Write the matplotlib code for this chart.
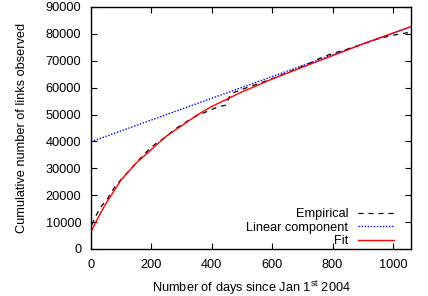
import matplotlib
matplotlib.use("Agg")
import matplotlib.pyplot as plt

plt.rcParams["font.family"] = ["Liberation Sans", "DejaVu Sans"]
plt.rcParams["font.size"] = 9.2

# ==========================================
# data
# ==========================================

emp_days = [3, 12, 29, 56, 76, 100, 134, 161, 189, 216, 247, 275, 308, 349,
            388, 422, 448, 458, 471, 516, 565, 604, 659, 709, 736, 769, 808,
            841, 880, 913, 946, 981, 1023, 1056]
emp_links = [9000, 11400, 15100, 18900, 22600, 25900, 30000, 33400, 36700,
             39300, 41600, 44300, 46800, 49500, 51300, 52900, 53500, 56500,
             58100, 60000, 61900, 63500, 66000, 68400, 69700, 71500, 73000,
             74000, 75500, 76700, 78000, 79000, 80000, 80500]

lin_days = [0, 1060]
lin_links = [39900, 82700]

fit_days = [0, 25, 50, 100, 150, 200, 250, 300, 350, 400, 450, 500, 600,
            700, 800, 900, 1000, 1060]
fit_links = [6400, 12000, 17000, 25700, 32000, 37000, 42000, 45800, 49700,
             53000, 55700, 58400, 63200, 67600, 71900, 76200, 80300, 82700]

# ==========================================
# figure
# ==========================================

fig = plt.figure(figsize=(4.28, 2.96), dpi=100)
ax = fig.add_axes([0.2126, 0.1588, 0.7477, 0.8176])

ax.plot(emp_days, emp_links, color="black", lw=0.9,
        linestyle=(0, (4, 4)), label="Empirical")
ax.plot(lin_days, lin_links, color="#0000ff", lw=1.0,
        linestyle=(0, (1, 1.2)), label="Linear component")
ax.plot(fit_days, fit_links, color="#ff0000", lw=1.0, label="Fit")

ax.set_xlim(0, 1060)
ax.set_ylim(0, 90000)
ax.set_xticks(range(0, 1001, 200))
ax.set_yticks(range(0, 90001, 10000))
ax.tick_params(direction="in", length=4, width=0.8, top=True, right=True,
               colors="black")
ax.tick_params(axis="x", pad=7)
ax.tick_params(axis="y", pad=7)
for side in ax.spines.values():
    side.set_linewidth(1.0)

ax.set_xlabel("Number of days since Jan 1$^{\\mathregular{st}}$ 2004", labelpad=6)
ax.set_ylabel("Cumulative number of links observed", labelpad=13)

ax.legend(loc="lower right", bbox_to_anchor=(0.955, -0.003), frameon=False,
          markerfirst=False, handlelength=2.8, handletextpad=0.8,
          labelspacing=0.12, borderpad=0.1, borderaxespad=0.1)

fig.savefig("out.png", dpi=100)
